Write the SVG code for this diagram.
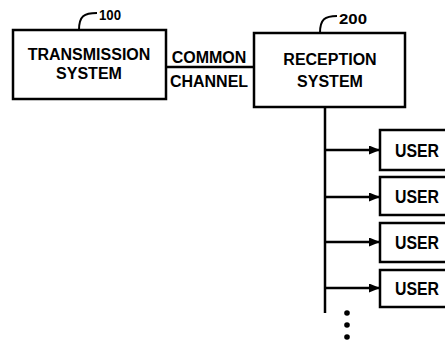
<svg xmlns="http://www.w3.org/2000/svg" width="445" height="343" viewBox="0 0 445 343">
<style>
.box{fill:#fff;stroke:#000;stroke-width:2.5}
.t{font-family:"Liberation Sans",Arial,sans-serif;font-weight:bold;font-size:16px;fill:#000;text-anchor:middle}
.u{font-family:"Liberation Sans",Arial,sans-serif;font-weight:bold;font-size:18px;fill:#000}
.lbl{font-family:"Liberation Sans",Arial,sans-serif;font-weight:bold;font-size:15px;fill:#000}
.ln{fill:none;stroke:#000;stroke-width:2.5}
.ld{fill:none;stroke:#000;stroke-width:2}
</style>
<defs>
<marker id="ah" viewBox="0 0 11 9" refX="11" refY="4.5" markerWidth="11" markerHeight="9" markerUnits="userSpaceOnUse" orient="auto">
<path d="M0,0 L11,4.5 L0,9 Z" fill="#000"/>
</marker>
</defs>
<rect width="445" height="343" fill="#fff"/>
<g id="transmission">
<rect class="box" x="13" y="30" width="153" height="69"/>
<text class="t" x="89" y="60">TRANSMISSION</text>
<text class="t" x="89" y="79">SYSTEM</text>
<path class="ld" d="M79,30 C79,16 84,13 97,13"/>
<text class="lbl" x="99" y="20" textLength="22" lengthAdjust="spacingAndGlyphs">100</text>
</g>
<g id="reception">
<rect class="box" x="254" y="33" width="151" height="74"/>
<text class="t" x="330" y="65">RECEPTION</text>
<text class="t" x="330" y="87">SYSTEM</text>
<path class="ld" d="M320,33 C320,19 325,16 337,16"/>
<text class="lbl" x="339" y="24" textLength="28" lengthAdjust="spacingAndGlyphs">200</text>
</g>
<g id="user1"><rect class="box" x="380" y="130" width="80" height="40"/><text class="u" x="395" y="157" textLength="44" lengthAdjust="spacingAndGlyphs">USER</text></g>
<g id="user2"><rect class="box" x="380" y="177" width="80" height="38"/><text class="u" x="395" y="203" textLength="44" lengthAdjust="spacingAndGlyphs">USER</text></g>
<g id="user3"><rect class="box" x="380" y="223" width="80" height="39"/><text class="u" x="395" y="249" textLength="44" lengthAdjust="spacingAndGlyphs">USER</text></g>
<g id="user4"><rect class="box" x="380" y="270" width="80" height="37"/><text class="u" x="395" y="295" textLength="44" lengthAdjust="spacingAndGlyphs">USER</text></g>
<g id="connectors">
<line class="ln" x1="166" y1="67" x2="254" y2="67"/>
<text class="t" x="209" y="63">COMMON</text>
<text class="t" x="209" y="87">CHANNEL</text>
<line class="ln" x1="325" y1="107" x2="325" y2="313"/>
<line class="ln" x1="325" y1="150" x2="380" y2="150" marker-end="url(#ah)"/>
<line class="ln" x1="325" y1="197" x2="380" y2="197" marker-end="url(#ah)"/>
<line class="ln" x1="325" y1="242" x2="380" y2="242" marker-end="url(#ah)"/>
<line class="ln" x1="325" y1="288" x2="380" y2="288" marker-end="url(#ah)"/>
<circle cx="347" cy="313" r="2.8"/>
<circle cx="347" cy="325" r="2.8"/>
<circle cx="347" cy="337" r="2.8"/>
</g>
</svg>
